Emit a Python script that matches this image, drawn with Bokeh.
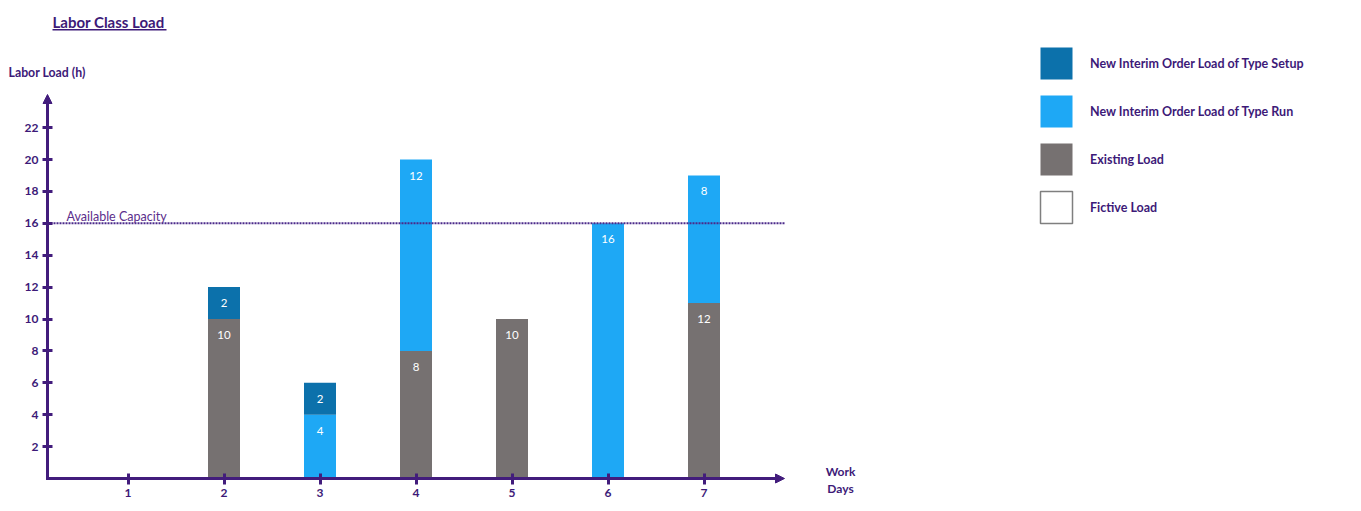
from bokeh.plotting import figure
from bokeh.models import (ColumnDataSource, Range1d, FixedTicker, Label, Legend,
                          LegendItem, Arrow, NormalHead, BoxAnnotation)
from bokeh.core.properties import value
from bokeh.embed import file_html
from bokeh.resources import INLINE

# ---------------- data ----------------
days = [1, 2, 3, 4, 5, 6, 7]
existing_load = [0, 10, 0, 8, 10, 0, 11]          # drawn heights
existing_labels = ["", "10", "", "8", "10", "", "12"]
run_load = [0, 0, 4, 12, 0, 16, 8]
setup_load = [0, 2, 2, 0, 0, 0, 0]
fictive_load = [0, 0, 0, 0, 0, 0, 0]
capacity = 16
y_ticks = [2, 4, 6, 8, 10, 12, 14, 16, 18, 20, 22]
x_ticks = days

series_names = ["New Interim Order Load of Type Setup", "New Interim Order Load of Type Run",
                "Existing Load", "Fictive Load"]

# ---------------- style / layout ----------------
C_SETUP = "#0C71AB"
C_RUN = "#1EA8F5"
C_EXIST = "#767171"
C_AXIS = "#421C7C"
C_TEXT = "#3D1A78"
FONT = "Lato"

W, H = 1353, 503
PX_X = 96.0      # pixels per day
PX_Y = 15.95     # pixels per hour
X0_PIX, Y0_PIX = 127.5, 478   # canvas position of day 1 / load 0
x_start = 1 - X0_PIX / PX_X
x_end = x_start + W / PX_X
y_start = -(H - Y0_PIX) / PX_Y
y_end = Y0_PIX / PX_Y
AX_X = 1 - (X0_PIX - 47) / PX_X        # where the vertical axis sits
AX_X_END = 1 + (784 - X0_PIX) / PX_X   # tip of horizontal arrow
AX_Y_END = (Y0_PIX - 94) / PX_Y        # tip of vertical arrow

src = ColumnDataSource(dict(day=days, existing=existing_load, run=run_load, setup=setup_load,
                            fictive=fictive_load))

p = figure(width=W, height=H, output_backend="svg", toolbar_location=None,
           x_range=Range1d(x_start, x_end), y_range=Range1d(y_start, y_end),
           min_border=0, min_border_left=0, min_border_right=0, min_border_top=0,
           min_border_bottom=0)
p.outline_line_color = None
p.xgrid.visible = False
p.ygrid.visible = False
p.background_fill_color = "white"
p.border_fill_color = "white"

rs = p.vbar_stack(["existing", "run", "setup"], x="day", width=0.3333, source=src,
                  color=[C_EXIST, C_RUN, C_SETUP], line_color=None)
r_exist, r_run, r_setup = rs

# fictive load (all zero)
r_fict = p.vbar(x="day", top="fictive", width=0.3333, source=src, fill_color="white",
                line_color="#7F7F7F", line_width=1.5)

# segment labels
lx, ly, lt = [], [], []
for i, d in enumerate(days):
    base = 0
    for val, lab in ((existing_load[i], existing_labels[i]), (run_load[i], str(run_load[i])),
                     (setup_load[i], str(setup_load[i]))):
        if val > 0:
            lx.append(d)
            ly.append(base + val)
            lt.append(lab)
        base += val
p.text(x=lx, y=ly, text=lt, text_color="white", text_font=value(FONT), text_font_size="11.5px",
       text_align="center", text_baseline="middle", y_offset=16)

# capacity line
p.segment(x0=[AX_X], x1=[AX_X_END], y0=[capacity], y1=[capacity], line_color="#4B2A8A",
          line_width=2, line_dash="2 1")
p.add_layout(Label(x=66, y=H - 216, x_units="screen", y_units="screen", text="Available Capacity",
                   text_font=FONT, text_font_size="12.5px", text_color="#5B2E8C",
                   text_baseline="middle"))

# axes (placed inside the frame)
for ax in (p.xaxis[0], p.yaxis[0]):
    ax.axis_line_color = None
    ax.major_tick_line_color = C_AXIS
    ax.major_tick_line_width = 3
    ax.minor_tick_line_color = None
    ax.major_label_text_color = C_TEXT
    ax.major_label_text_font = FONT
    ax.major_label_text_font_size = "12px"
    ax.major_label_text_font_style = "bold"
    ax.major_label_standoff = 4
p.yaxis.fixed_location = AX_X
p.xaxis.fixed_location = 0
p.yaxis.ticker = FixedTicker(ticks=y_ticks)
p.xaxis.ticker = FixedTicker(ticks=x_ticks)
p.yaxis.major_tick_in = 5
p.yaxis.major_tick_out = 5
p.xaxis.major_tick_in = 5
p.xaxis.major_tick_out = 6

# axis lines with arrow heads
p.add_layout(Arrow(end=NormalHead(size=9, fill_color=C_AXIS, line_color=C_AXIS),
                   x_start=AX_X, y_start=0, x_end=AX_X_END, y_end=0,
                   line_color=C_AXIS, line_width=3, line_cap="square"))
p.add_layout(Arrow(end=NormalHead(size=9, fill_color=C_AXIS, line_color=C_AXIS),
                   x_start=AX_X, y_start=0, x_end=AX_X, y_end=AX_Y_END,
                   line_color=C_AXIS, line_width=3, line_cap="square"))

# texts
p.add_layout(Label(x=52, y=H - 21, x_units="screen", y_units="screen", text="Labor Class Load",
                   text_font=FONT, text_font_size="15px", text_font_style="bold",
                   text_color=C_TEXT, text_baseline="middle"))
p.add_layout(BoxAnnotation(left=52, right=166, top=H - 28.5, bottom=H - 30, left_units="screen",
                           right_units="screen", top_units="screen", bottom_units="screen",
                           fill_color=C_TEXT, fill_alpha=1, line_color=None))
p.add_layout(Label(x=8, y=H - 72, x_units="screen", y_units="screen", text="Labor Load (h)",
                   text_font=FONT, text_font_size="12.3px", text_font_style="bold",
                   text_color=C_TEXT, text_baseline="middle"))
p.add_layout(Label(x=840, y=H - 471, x_units="screen", y_units="screen", text="Work",
                   text_font=FONT, text_font_size="12px", text_font_style="bold",
                   text_color=C_TEXT, text_baseline="middle", text_align="center"))
p.add_layout(Label(x=840, y=H - 488, x_units="screen", y_units="screen", text="Days",
                   text_font=FONT, text_font_size="12px", text_font_style="bold",
                   text_color=C_TEXT, text_baseline="middle", text_align="center"))

# legend (glyph boxes are drawn at 80% of the glyph area)
legend = Legend(items=[LegendItem(label=series_names[0], renderers=[r_setup]),
                       LegendItem(label=series_names[1], renderers=[r_run]),
                       LegendItem(label=series_names[2], renderers=[r_exist]),
                       LegendItem(label=series_names[3], renderers=[r_fict])],
                location=(1036, H - 227), glyph_width=40, glyph_height=40, spacing=8,
                label_standoff=14, padding=0, margin=0, border_line_color=None,
                background_fill_alpha=0, label_text_font=FONT, label_text_font_size="12.5px",
                label_text_font_style="bold", label_text_color=C_TEXT)
p.add_layout(legend)

open("out.html", "w").write(file_html(p, INLINE))
